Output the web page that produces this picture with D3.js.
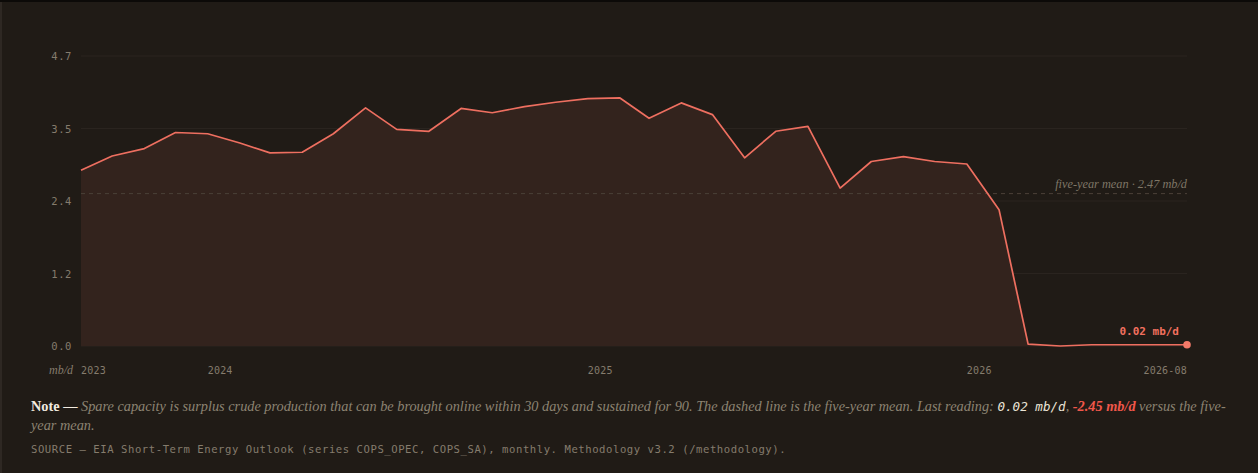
<!DOCTYPE html>
<html>
<head>
<meta charset="utf-8">
<script src="https://cdn.jsdelivr.net/npm/d3@7"></script>
<style>
  html, body { margin: 0; padding: 0; background: #0c0a08; }
  body { width: 1258px; height: 473px; overflow: hidden; position: relative; }
  .card {
    position: absolute; left: 0; top: 2px; width: 1256px; height: 471px;
    background: #201b16; border-left: 2px solid #2e2823;
  }
  #chart { position: absolute; left: 0; top: 0; }
  .note {
    position: absolute; left: 29px; top: 395px; width: 1205px;
    font-family: 'Liberation Serif', serif; font-size: 14.3px; line-height: 19px;
    color: #8c8372; font-style: italic;
  }
  .note b { font-style: normal; color: #f2ebe0; font-weight: bold; }
  .note .mono { font-family: 'DejaVu Sans Mono', monospace; color: #ece4d6; font-size: 12.6px; }
  .note .neg { color: #f0574a; font-weight: bold; }
  .source {
    position: absolute; left: 29px; top: 441px;
    font-family: 'DejaVu Sans Mono', monospace; font-size: 10.6px; letter-spacing: 0.55px;
    color: #857c6d;
  }
</style>
</head>
<body>
<div class="card">
  <div id="chart"></div>
  <div class="note"><b>Note —</b> Spare capacity is surplus crude production that can be brought online within 30 days and sustained for 90. The dashed line is the five-year mean. Last reading: <span class="mono">0.02 mb/d</span>, <span class="neg">-2.45 mb/d</span> versus the five-year mean.</div>
  <div class="source">SOURCE — EIA Short-Term Energy Outlook (series COPS_OPEC, COPS_SA), monthly. Methodology v3.2 (/methodology).</div>
</div>
<script>
  // monthly OPEC spare capacity, mb/d
  var months = [
    '2023-09', '2023-10', '2023-11', '2023-12', '2024-01', '2024-02', '2024-03', '2024-04', '2024-05',
    '2024-06', '2024-07', '2024-08', '2024-09', '2024-10', '2024-11', '2024-12', '2025-01', '2025-02',
    '2025-03', '2025-04', '2025-05', '2025-06', '2025-07', '2025-08', '2025-09', '2025-10', '2025-11',
    '2025-12', '2026-01', '2026-02', '2026-03', '2026-04', '2026-05', '2026-06', '2026-07', '2026-08'
  ];
  var spare = [
    2.85, 3.08, 3.20, 3.46, 3.44, 3.29, 3.13, 3.14, 3.44,
    3.86, 3.51, 3.48, 3.85, 3.78, 3.88, 3.95, 4.01, 4.02,
    3.69, 3.94, 3.75, 3.05, 3.48, 3.56, 2.56, 2.99, 3.07,
    2.99, 2.95, 2.21, 0.03, 0.00, 0.02, 0.02, 0.02, 0.02
  ];
  var fiveYearMean = 2.47;
  var yMax = 4.7;
  var xTickMonths = ['2023-09', '2024-01', '2025-01', '2026-01', '2026-08'];
  var xTickLabels = ['2023', '2024', '2025', '2026', '2026-08'];

  function createChart() {
    var parse = d3.utcParse('%Y-%m');
    var data = months.map(function (m, i) { return { date: parse(m), value: spare[i] }; });

    var width = 1256, height = 390;
    var margin = { top: 54, right: 71, bottom: 46, left: 79 };

    var svg = d3.select('#chart')
      .append('svg')
      .attr('width', width)
      .attr('height', height);

    var x = d3.scaleUtc()
      .domain(d3.extent(data, function (d) { return d.date; }))
      .range([margin.left, width - margin.right]);

    var y = d3.scaleLinear()
      .domain([0, yMax])
      .range([height - margin.bottom, margin.top]);

    var yTicks = d3.range(5).map(function (i) { return yMax * i / 4; });

    // grid
    svg.append('g')
      .selectAll('line')
      .data(yTicks)
      .enter()
      .append('line')
      .attr('x1', margin.left)
      .attr('x2', width - margin.right)
      .attr('y1', function (d) { return y(d); })
      .attr('y2', function (d) { return y(d); })
      .attr('stroke', '#2a241f')
      .attr('stroke-width', 1);

    var yAxis = svg.append('g')
      .attr('transform', 'translate(' + (margin.left - 9) + ',0)')
      .call(d3.axisLeft(y).tickValues(yTicks).tickSize(0).tickPadding(0)
        .tickFormat(function (d) { return d.toFixed(1); }));
    yAxis.select('.domain').remove();
    yAxis.selectAll('text')
      .attr('dy', '0.35em')
      .style('font-family', "'DejaVu Sans Mono', monospace")
      .style('font-size', '10.5px')
      .style('letter-spacing', '0.6px')
      .style('fill', '#857c6d');

    // area + line
    var area = d3.area()
      .x(function (d) { return x(d.date); })
      .y0(y(0))
      .y1(function (d) { return y(d.value); });

    var line = d3.line()
      .x(function (d) { return x(d.date); })
      .y(function (d) { return y(d.value); });

    svg.append('path')
      .datum(data)
      .attr('d', area)
      .attr('fill', '#33231d');

    // five-year mean
    svg.append('line')
      .attr('x1', margin.left)
      .attr('x2', width - margin.right)
      .attr('y1', y(fiveYearMean))
      .attr('y2', y(fiveYearMean))
      .attr('stroke', '#4b4138')
      .attr('stroke-width', 1)
      .attr('stroke-dasharray', '4,4');

    svg.append('text')
      .attr('x', width - margin.right)
      .attr('y', y(fiveYearMean) - 6)
      .attr('text-anchor', 'end')
      .text('five-year mean · ' + fiveYearMean.toFixed(2) + ' mb/d')
      .style('font-family', "'Liberation Serif', serif")
      .style('font-style', 'italic')
      .style('font-size', '12.3px')
      .style('fill', '#7f7666');

    svg.append('path')
      .datum(data)
      .attr('d', line)
      .attr('fill', 'none')
      .attr('stroke', '#ee6f60')
      .attr('stroke-width', 1.7)
      .attr('stroke-linejoin', 'round');

    // last reading
    var last = data[data.length - 1];
    svg.append('circle')
      .attr('cx', x(last.date))
      .attr('cy', y(last.value))
      .attr('r', 3.8)
      .attr('fill', '#f47a69');

    svg.append('text')
      .attr('x', x(last.date) - 8)
      .attr('y', y(last.value) - 10)
      .attr('text-anchor', 'end')
      .text(last.value.toFixed(2) + ' mb/d')
      .style('font-family', "'DejaVu Sans Mono', monospace")
      .style('font-weight', 'bold')
      .style('font-size', '11px')
      .style('fill', '#f2705f');

    // x labels
    svg.append('g')
      .selectAll('text')
      .data(xTickMonths)
      .enter()
      .append('text')
      .attr('x', function (d) { return x(parse(d)); })
      .attr('y', height - margin.bottom + 28)
      .attr('text-anchor', function (d, i) { return i === xTickMonths.length - 1 ? 'end' : 'start'; })
      .text(function (d, i) { return xTickLabels[i]; })
      .style('font-family', "'DejaVu Sans Mono', monospace")
      .style('font-size', '10px')
      .style('letter-spacing', '0.2px')
      .style('fill', '#857c6d');

    svg.append('text')
      .attr('x', margin.left - 8)
      .attr('y', height - margin.bottom + 28)
      .attr('text-anchor', 'end')
      .text('mb/d')
      .style('font-family', "'Liberation Serif', serif")
      .style('font-style', 'italic')
      .style('font-size', '12px')
      .style('fill', '#857c6d');
  }

  createChart();
</script>
</body>
</html>
